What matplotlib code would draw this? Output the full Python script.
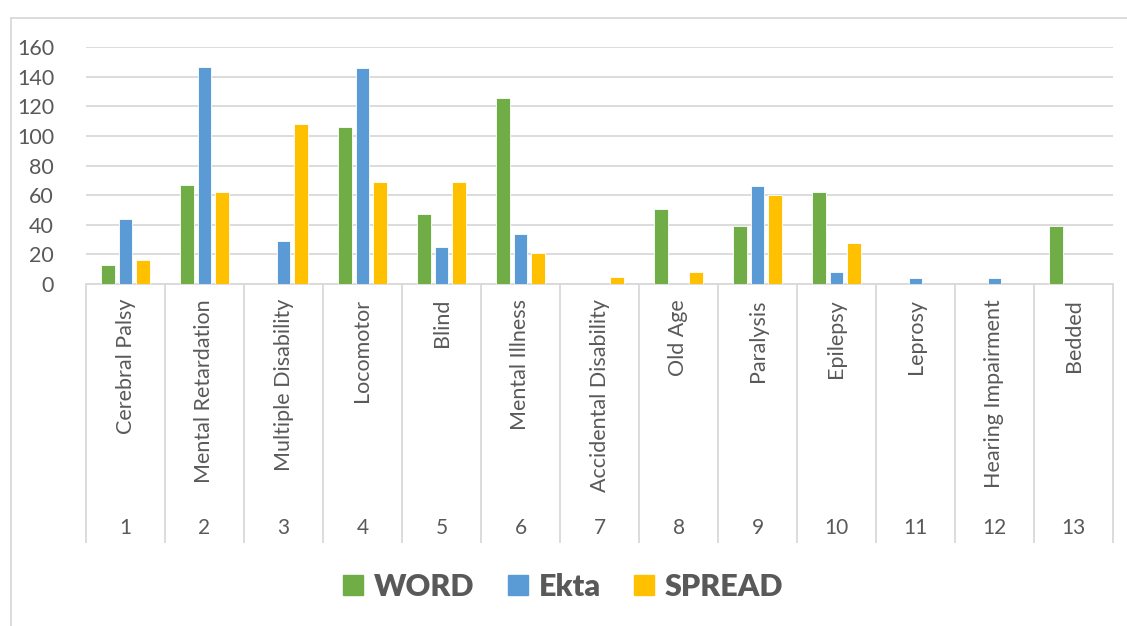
import matplotlib.pyplot as plt
from matplotlib.patches import Patch
from matplotlib.lines import Line2D
import numpy as np

categories = ["Cerebral Palsy", "Mental Retardation", "Multiple Disability", "Locomotor",
              "Blind", "Mental Illness", "Accidental Disability", "Old Age", "Paralysis",
              "Epilepsy", "Leprosy", "Hearing Impairment", "Bedded"]
numbers = [str(i) for i in range(1, 14)]
word = [13, 67, 0, 106, 47, 126, 0, 51, 39, 62, 0, 0, 39]
ekta = [44, 147, 29, 146, 25, 34, 0, 0, 66, 8, 4, 4, 0]
spread = [16, 62, 108, 69, 69, 21, 5, 8, 60, 28, 0, 0, 0]
series_names = ["WORD", "Ekta", "SPREAD"]
colors = ["#70AD47", "#5B9BD5", "#FFC000"]

plt.rcParams['font.family'] = ['Lato', 'DejaVu Sans']
text_color = "#595959"
grid_color = "#D9D9D9"

W, H = 1127, 626
fig = plt.figure(figsize=(W / 100, H / 100), dpi=100)
x0, x1, y0, y1 = 86, 1113, 284, 47.3
ax = fig.add_axes([x0 / W, 1 - y0 / H, (x1 - x0) / W, (y0 - y1) / H])

x = np.arange(len(categories))
bw = 0.177
off = 0.222
for i, (vals, c) in enumerate(zip([word, ekta, spread], colors)):
    ax.bar(x + (i - 1) * off, vals, bw, color=c, edgecolor="white", linewidth=0.6, zorder=3)

ax.set_xlim(-0.5, len(categories) - 0.5)
ax.set_ylim(0, 160)
ax.set_yticks(range(0, 161, 20))
ax.tick_params(axis='y', length=0, labelsize=15.5, labelcolor=text_color, pad=23)
ax.set_xticks([])
ax.yaxis.grid(True, color=grid_color, linewidth=1.3, zorder=0)
for s in ["top", "right", "left"]:
    ax.spines[s].set_visible(False)
ax.spines["bottom"].set_color(grid_color)
ax.spines["bottom"].set_linewidth(1.3)

# multi-level category axis (pixel rows converted to axes fraction)
px = y0 - y1
trans = ax.get_xaxis_transform()
ax.vlines(np.arange(len(categories) + 1) - 0.5, (y0 - 543) / px, 0, transform=trans,
          colors=grid_color, linewidth=1.3, clip_on=False)
for i, (cat, num) in enumerate(zip(categories, numbers)):
    ax.text(i, (y0 - 299) / px, cat, transform=trans, rotation=90, ha="center", va="top",
            fontsize=15.5, color=text_color)
    ax.text(i, (y0 - 528) / px, num, transform=trans, ha="center", va="center",
            fontsize=15, color=text_color)

# outer chart frame
fig.add_artist(Line2D([10.5 / W, 10.5 / W], [0, 1 - 18 / H], color=grid_color, linewidth=1.3))
fig.add_artist(Line2D([10.5 / W, 1], [1 - 18 / H, 1 - 18 / H], color=grid_color, linewidth=1.3))

handles = [Patch(color=c) for c in colors]
leg = fig.legend(handles, series_names, loc="center", bbox_to_anchor=(0.5, 1 - 587 / H),
                 ncol=3, frameon=False, prop={"weight": "heavy", "size": 22},
                 handlelength=0.65, handleheight=0.65, handletextpad=0.35, columnspacing=1.1)
for t in leg.get_texts():
    t.set_color(text_color)

fig.savefig("out.png", dpi=100)
